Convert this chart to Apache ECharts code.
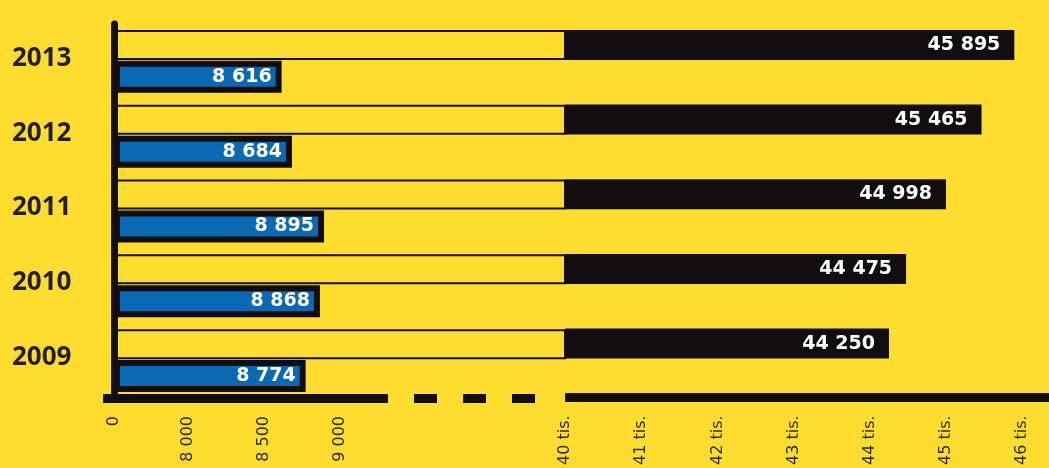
<!DOCTYPE html>
<html>
<head>
<meta charset="utf-8">
<script src="https://cdn.jsdelivr.net/npm/echarts@6/dist/echarts.min.js"></script>
<style>
html,body{margin:0;padding:0;background:#fedd2e;}
#c{width:1049px;height:468px;}
</style>
</head>
<body>
<div id="c"></div>
<script>
// ---- data ----
const years = ['2009', '2010', '2011', '2012', '2013'];
const blueValues = [8774, 8868, 8895, 8684, 8616];
const blackValues = [44250, 44475, 44998, 45465, 45895];
const leftTickValues = [0, 8000, 8500, 9000];
const rightTickUnit = ' tis.';

// ---- styles ----
const BG = '#fedd2e';
const INK = '#120d0e';
const BLUE = '#0a69b3';
const TEXT = '#231f20';

function fmtSpace(v) {
  return String(v).replace(/\B(?=(\d{3})+(?!\d))/g, ' ');
}

const gridTop = 24, gridH = 374;
const chart = echarts.init(document.getElementById('c'), null, {renderer: 'canvas'});

const tickLabel = {
  rotate: 90, fontSize: 16, fontFamily: 'DejaVu Sans', color: '#2b2b2b', margin: 18
};

const option = {
  backgroundColor: BG,
  animation: false,
  grid: [
    {left: 114, width: 451, top: gridTop, height: gridH},   // 0: left segment
    {left: 103, width: 285, top: gridTop, height: gridH},   // 1: solid axis line
    {left: 388, width: 173, top: gridTop, height: gridH},   // 2: dashed break line
    {left: 565, width: 484, top: gridTop, height: gridH}    // 3: right segment
  ],
  xAxis: [
    {
      gridIndex: 0, type: 'value', min: 0, max: 10480, interval: 500,
      breaks: [{start: 0, end: 8000, gap: '16.4%'}],
      breakArea: {show: false, itemStyle: {opacity: 0, borderWidth: 0}, zigzagAmplitude: 0},
      axisLine: {show: false}, axisTick: {show: false}, splitLine: {show: false},
      axisLabel: Object.assign({}, tickLabel, {
        showMaxLabel: false,
        formatter: function (v) { return leftTickValues.indexOf(v) >= 0 ? fmtSpace(v) : ''; }
      })
    },
    {
      gridIndex: 1, type: 'value', min: 0, max: 1,
      axisLine: {show: true, lineStyle: {color: INK, width: 9, cap: 'butt'}},
      axisTick: {show: false}, axisLabel: {show: false}, splitLine: {show: false}
    },
    {
      gridIndex: 2, type: 'value', min: 0, max: 1,
      axisLine: {show: true, lineStyle: {color: INK, width: 9, cap: 'butt', type: [23, 26], dashOffset: 23}},
      axisTick: {show: false}, axisLabel: {show: false}, splitLine: {show: false}
    },
    {
      gridIndex: 3, type: 'value', min: 40000, max: 46350, interval: 1000,
      axisLine: {show: true, lineStyle: {color: INK, width: 9, cap: 'butt'}},
      axisTick: {show: false}, splitLine: {show: false},
      axisLabel: Object.assign({}, tickLabel, {
        showMaxLabel: false,
        formatter: function (v) { return (v % 1000 === 0) ? (v / 1000) + rightTickUnit : ''; }
      })
    }
  ],
  yAxis: [
    {
      gridIndex: 0, type: 'category', data: years,
      axisLine: {show: true, lineStyle: {color: INK, width: 7, cap: 'round'}},
      axisTick: {show: false},
      axisLabel: {
        align: 'left', margin: 102, fontSize: 26, fontWeight: 'bold',
        fontFamily: 'Noto Sans', color: TEXT,
        formatter: function (v) { return '{y|' + v + '}'; },
        rich: {y: {fontSize: 26, fontWeight: 'bold', fontFamily: 'Noto Sans', color: TEXT, padding: [0, 0, 6, 0]}}
      }
    },
    {gridIndex: 1, type: 'category', data: years, show: false},
    {gridIndex: 2, type: 'category', data: years, show: false},
    {gridIndex: 3, type: 'category', data: years, show: false}
  ],
  series: [
    {
      name: 'black-outline', type: 'bar', xAxisIndex: 0, yAxisIndex: 0,
      data: blackValues, barWidth: 30, barGap: '3%', silent: true,
      itemStyle: {color: 'rgba(0,0,0,0)', borderColor: INK, borderWidth: 2}
    },
    {
      name: 'blue', type: 'bar', xAxisIndex: 0, yAxisIndex: 0,
      data: blueValues, barWidth: 32, barGap: '3%',
      itemStyle: {color: BLUE, borderColor: INK, borderWidth: 6},
      label: {
        show: true, position: 'insideRight', distance: 10, color: '#fff',
        fontSize: 19, fontWeight: 'bold', fontFamily: 'DejaVu Sans',
        formatter: function (p) { return fmtSpace(p.value); }
      }
    },
    {
      name: 'black', type: 'bar', xAxisIndex: 3, yAxisIndex: 3,
      data: blackValues, barWidth: 30, barGap: '3%',
      itemStyle: {color: INK},
      label: {
        show: true, position: 'insideRight', distance: 14, color: '#fff',
        fontSize: 19, fontWeight: 'bold', fontFamily: 'DejaVu Sans',
        formatter: function (p) { return fmtSpace(p.value); }
      }
    },
    {
      name: 'blue-r', type: 'bar', xAxisIndex: 3, yAxisIndex: 3,
      data: blueValues, barWidth: 32, barGap: '3%',
      itemStyle: {color: BLUE, borderColor: INK, borderWidth: 6}
    }
  ]
};
chart.setOption(option);
</script>
</body>
</html>
